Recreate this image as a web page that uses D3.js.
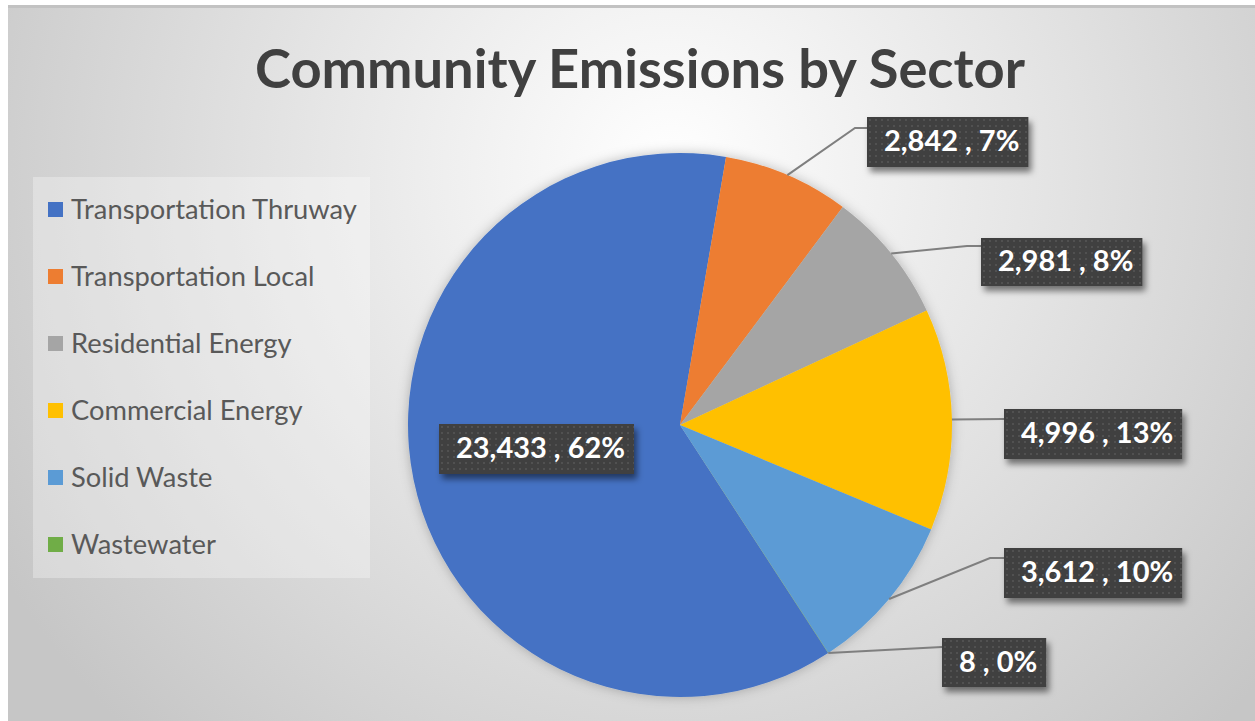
<!DOCTYPE html>
<html>
<head>
<meta charset="utf-8">
<script src="https://cdn.jsdelivr.net/npm/d3@7"></script>
<style>
  html, body { margin: 0; padding: 0; background: #fff; }
  svg { display: block; }
</style>
</head>
<body>
<script>
'use strict';

const categories = ['Transportation Thruway', 'Transportation Local', 'Residential Energy',
  'Commercial Energy', 'Solid Waste', 'Wastewater'];
const values = [23433, 2842, 2981, 4996, 3612, 8];
const percentLabels = [62, 7, 8, 13, 10, 0];
const colors = ['#4472C4', '#ED7D31', '#A5A5A5', '#FFC000', '#5B9BD5', '#70AD47'];

const width = 1255;
const height = 721;
const center = {x: 680, y: 425};
const radius = 272;
const firstSliceAngle = 147; // degrees, like Excel's "angle of first slice"

// where each data label box sits (top-left) and where its leader line bends
const labelSpots = [
  {x: 439, y: 424, h: 50, line: null},
  {x: 867, y: 117, h: 50, line: [[855, 128], [867, 128]]},
  {x: 981, y: 238, h: 48, line: [[967, 246], [981, 246]]},
  {x: 1004, y: 409, h: 50, line: [[1003, 419], [1004, 419]]},
  {x: 1004, y: 548, h: 50, line: [[990, 558], [1004, 558]]},
  {x: 942, y: 638, h: 49, line: [[942, 647], [942, 647]]},
];

const data = categories.map((c, i) => ({
  name: c, value: values[i], pct: percentLabels[i], color: colors[i],
}));

const svg = d3.select('body').append('svg')
    .attr('width', width)
    .attr('height', height);

const defs = svg.append('defs');

const bg = defs.append('radialGradient')
    .attr('id', 'bg')
    .attr('gradientUnits', 'userSpaceOnUse')
    .attr('cx', 670).attr('cy', 170).attr('r', 780);
bg.append('stop').attr('offset', 0).attr('stop-color', '#ffffff');
bg.append('stop').attr('offset', 0.45).attr('stop-color', '#e6e6e6');
bg.append('stop').attr('offset', 1).attr('stop-color', '#c6c6c6');

const dots = defs.append('pattern')
    .attr('id', 'dots')
    .attr('patternUnits', 'userSpaceOnUse')
    .attr('width', 6).attr('height', 6);
dots.append('rect').attr('width', 6).attr('height', 6).attr('fill', '#3f3f3f');
dots.append('circle').attr('cx', 3).attr('cy', 3).attr('r', 1).attr('fill', '#575757');

const boxShadow = defs.append('filter').attr('id', 'boxShadow')
    .attr('x', '-20%').attr('y', '-30%').attr('width', '150%').attr('height', '180%');
boxShadow.append('feDropShadow')
    .attr('dx', 3).attr('dy', 5).attr('stdDeviation', 3)
    .attr('flood-color', '#000').attr('flood-opacity', 0.5);

const pieShadow = defs.append('filter').attr('id', 'pieShadow')
    .attr('x', '-20%').attr('y', '-20%').attr('width', '140%').attr('height', '140%');
pieShadow.append('feDropShadow')
    .attr('dx', 0).attr('dy', 0).attr('stdDeviation', 6)
    .attr('flood-color', '#000').attr('flood-opacity', 0.25);

// chart area
svg.append('rect')
    .attr('x', 8).attr('y', 5)
    .attr('width', width - 8).attr('height', height - 5)
    .attr('fill', 'url(#bg)');
svg.append('rect')
    .attr('x', 8).attr('y', 5)
    .attr('width', width - 8).attr('height', 3)
    .attr('fill', '#c2c2c2');

// title, sized to the reference width
const title = svg.append('text')
    .attr('x', 640).attr('y', 88)
    .attr('text-anchor', 'middle')
    .attr('font-family', 'Lato, sans-serif')
    .attr('font-weight', 'bold')
    .attr('font-size', 52)
    .attr('fill', '#404040')
    .text('Community Emissions by Sector');
const tw = title.node().getComputedTextLength();
title.attr('font-size', 52 * 770 / tw);

// legend
const legend = svg.append('g');
legend.append('rect')
    .attr('x', 33).attr('y', 177)
    .attr('width', 337).attr('height', 401)
    .attr('fill', '#ffffff').attr('fill-opacity', 0.3);

const legendY = d3.scalePoint()
    .domain(categories)
    .range([210, 545]);

const items = legend.selectAll('g.item')
  .data(data)
  .join('g')
    .attr('class', 'item')
    .attr('transform', d => 'translate(0,' + legendY(d.name) + ')');
items.append('rect')
    .attr('x', 48).attr('y', -8)
    .attr('width', 15).attr('height', 15)
    .attr('fill', d => d.color);
const legendText = items.append('text')
    .attr('x', 71).attr('y', 9)
    .attr('font-family', 'Lato, sans-serif')
    .attr('font-size', 26)
    .attr('fill', '#595959')
    .text(d => d.name);
const lw = legendText.nodes()[0].getComputedTextLength();
legendText.attr('font-size', 26 * 286 / lw);

// pie
const pie = d3.pie()
    .sort(null)
    .value(d => d.value)
    .startAngle(firstSliceAngle * Math.PI / 180)
    .endAngle(firstSliceAngle * Math.PI / 180 + 2 * Math.PI);
const arc = d3.arc().innerRadius(0).outerRadius(radius);
const arcs = pie(data);

const pieG = svg.append('g')
    .attr('transform', 'translate(' + center.x + ',' + center.y + ')');
pieG.append('g')
    .attr('filter', 'url(#pieShadow)')
  .selectAll('path')
  .data(arcs)
  .join('path')
    .attr('d', arc)
    .attr('fill', d => d.data.color);

// leader lines from the slice edge to the label
const edgePoint = (d) => {
  const a = (d.startAngle + d.endAngle) / 2;
  return [center.x + radius * Math.sin(a), center.y - radius * Math.cos(a)];
};
svg.append('g')
  .selectAll('path')
  .data(arcs.filter((d, i) => labelSpots[i].line))
  .join('path')
    .attr('d', d => d3.line()([edgePoint(d)].concat(labelSpots[d.index].line)))
    .attr('fill', 'none')
    .attr('stroke', '#7f7f7f')
    .attr('stroke-width', 2);

// data labels
const fmt = d3.format(',');
const labels = svg.append('g')
  .selectAll('g')
  .data(arcs)
  .join('g')
    .attr('transform', d => 'translate(' + labelSpots[d.index].x + ',' + labelSpots[d.index].y + ')');
const boxes = labels.append('rect')
    .attr('fill', 'url(#dots)')
    .attr('filter', 'url(#boxShadow)')
    .attr('height', d => labelSpots[d.index].h);
const labelText = labels.append('text')
    .attr('font-family', 'Lato, sans-serif')
    .attr('font-weight', 'bold')
    .attr('font-size', 26)
    .attr('fill', '#ffffff')
    .attr('y', d => labelSpots[d.index].h / 2 + 9)
    .text(d => fmt(d.data.value) + ' , ' + d.data.pct + '%');
const bw = labelText.nodes()[0].getComputedTextLength();
const labelSize = 26 * 169 / bw;
labelText.attr('font-size', labelSize);
labelText.each(function(d) {
  const w = this.getComputedTextLength();
  d3.select(this).attr('x', 17);
  d.boxW = w + 26;
});
boxes.attr('width', d => d.boxW);
</script>
</body>
</html>
